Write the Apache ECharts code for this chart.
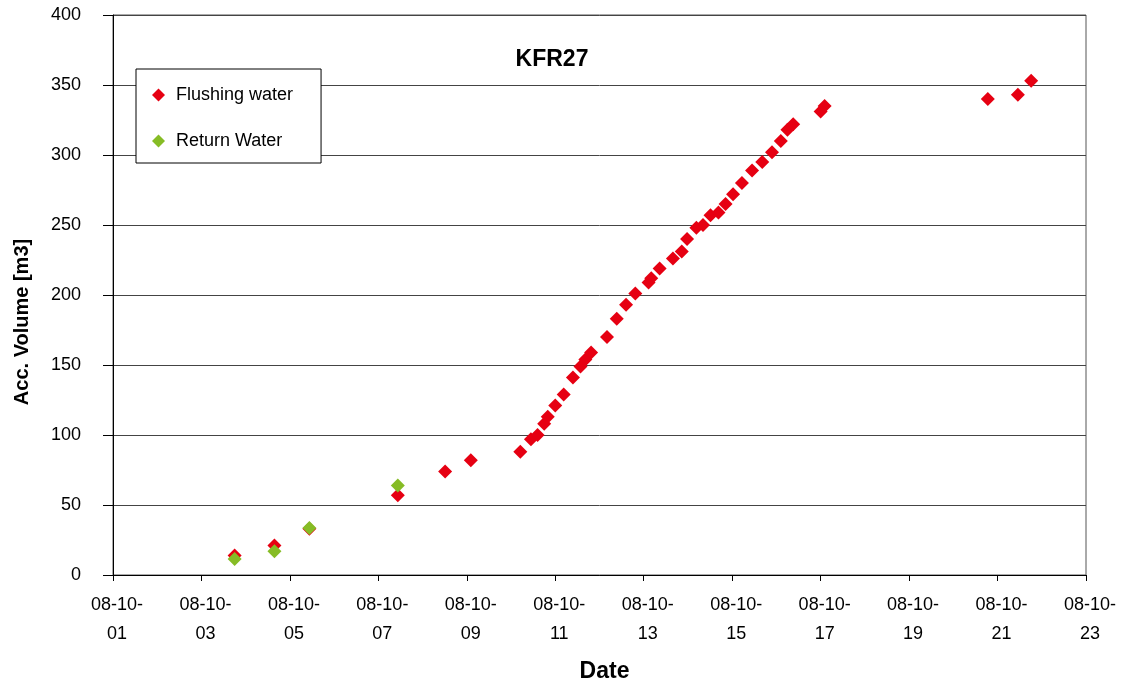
<!DOCTYPE html>
<html>
<head>
<meta charset="utf-8">
<script src="https://cdn.jsdelivr.net/npm/echarts@6/dist/echarts.min.js"></script>
<style>
  html, body { margin: 0; padding: 0; background: #fff; }
  #chart { width: 1121px; height: 688px; }
</style>
</head>
<body>
<div id="chart"></div>
<script>
// day of October 2008 (fractional) and accumulated volume [m3]
var flushDays = [3.75, 4.65, 5.44, 7.44, 8.51, 9.09, 10.21, 10.45, 10.6, 10.75, 10.83, 11.0, 11.19, 11.4,
  11.57, 11.68, 11.81, 12.17, 12.39, 12.6, 12.81, 13.11, 13.17, 13.36, 13.66, 13.86, 13.98, 14.19,
  14.34, 14.51, 14.69, 14.85, 15.02, 15.22, 15.45, 15.68, 15.9, 16.1, 16.25, 16.38, 17.0, 17.09,
  20.78, 21.46, 21.76];
var flushVol = [14, 21, 33, 57, 74, 82, 88, 97, 100, 108, 113, 121, 129, 141,
  149, 154, 159, 170, 183, 193, 201, 209, 212, 219, 226, 231, 240, 248,
  250, 257, 259, 265, 272, 280, 289, 295, 302, 310, 318, 322, 331, 335,
  340, 343, 353];
var returnDays = [3.75, 4.65, 5.44, 7.44];
var returnVol = [11.5, 17, 33.5, 64];

var yTicks = [0, 50, 100, 150, 200, 250, 300, 350, 400];

function pad(n) { return n < 10 ? "0" + n : "" + n; }
function pairs(xs, ys) {
  return xs.map(function (x, i) { return [x - 1, ys[i]]; }); // days since 08-10-01
}

var chart = echarts.init(document.getElementById("chart"));
var font = "'Liberation Sans', Arial, sans-serif";

chart.setOption({
  animation: false,
  textStyle: { fontFamily: font },
  title: {
    text: "KFR27",
    left: 547,
    top: 43,
    textAlign: "center",
    textStyle: { fontSize: 23, fontWeight: "bold", color: "#000", fontFamily: font }
  },
  legend: {
    orient: "vertical",
    left: 136,
    top: 69,
    padding: [16, 28, 12, 16],
    itemGap: 26,
    itemWidth: 13,
    itemHeight: 13,
    backgroundColor: "#fff",
    borderColor: "#000",
    borderWidth: 1,
    borderRadius: 0,
    textStyle: { fontSize: 18, color: "#000", lineHeight: 20, fontFamily: font, padding: [0, 0, 0, 6] },
    data: [
      { name: "Flushing water", icon: "diamond" },
      { name: "Return Water", icon: "diamond" }
    ]
  },
  grid: {
    left: 113,
    right: 35,
    top: 15,
    bottom: 110,
    show: true,
    borderColor: "#555",
    borderWidth: 1
  },
  graphic: [{
    type: "text",
    x: 22,
    y: 322,
    rotation: Math.PI / 2,
    style: {
      text: "Acc. Volume [m3]",
      font: "bold 20px " + font,
      fill: "#000",
      textAlign: "center",
      textVerticalAlign: "middle"
    }
  }],
  xAxis: {
    type: "value",
    min: 0,
    max: 22,
    interval: 2,
    name: "Date",
    nameLocation: "middle",
    nameGap: 85,
    nameTextStyle: { fontSize: 23, fontWeight: "bold", color: "#000", padding: [0, 0, 0, 10] },
    axisLine: { show: true, lineStyle: { color: "#000", width: 1 } },
    axisTick: { show: true, length: 6, lineStyle: { color: "#000" } },
    axisLabel: {
      fontSize: 18,
      color: "#000",
      margin: 16,
      lineHeight: 29,
      padding: [0, 0, 0, 8],
      formatter: function (v) { return "08-10-\n" + pad(v + 1); }
    },
    splitLine: { show: false }
  },
  yAxis: {
    type: "value",
    min: yTicks[0],
    max: yTicks[yTicks.length - 1],
    interval: 50,
    axisLine: { show: true, lineStyle: { color: "#000", width: 1 } },
    axisTick: { show: true, length: 10, lineStyle: { color: "#000" } },
    axisLabel: { fontSize: 18, color: "#000", margin: 32 },
    splitLine: { show: true, lineStyle: { color: "#444", width: 1 } }
  },
  series: [
    {
      name: "Flushing water",
      type: "scatter",
      symbol: "diamond",
      symbolSize: 14,
      itemStyle: { color: "#e60012", opacity: 1 },
      data: pairs(flushDays, flushVol)
    },
    {
      name: "Return Water",
      type: "scatter",
      symbol: "diamond",
      symbolSize: 14,
      itemStyle: { color: "#86bc25", opacity: 1 },
      data: pairs(returnDays, returnVol)
    }
  ]
});
</script>
</body>
</html>
